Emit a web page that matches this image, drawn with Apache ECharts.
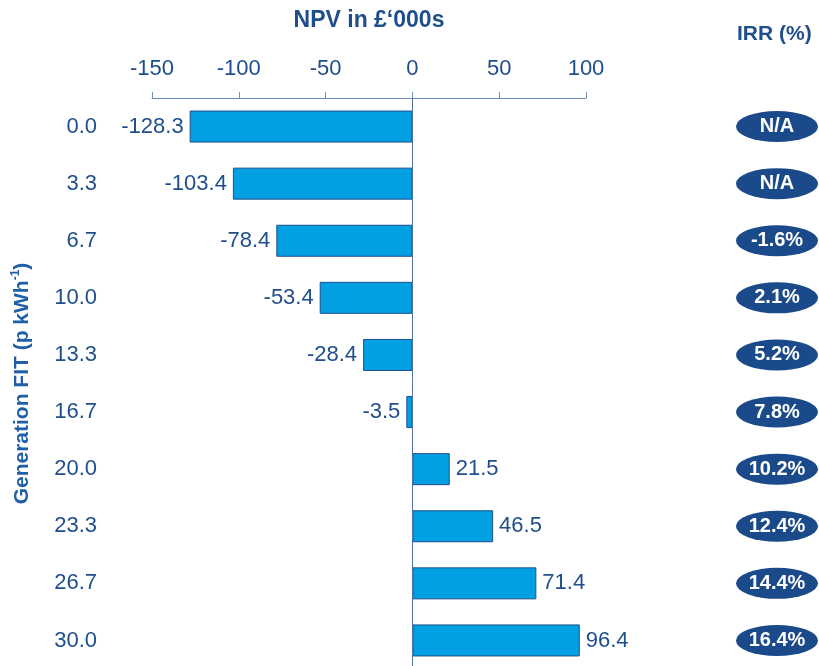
<!DOCTYPE html>
<html>
<head>
<meta charset="utf-8">
<script src="https://cdn.jsdelivr.net/npm/echarts@6/dist/echarts.min.js"></script>
<style>
  html, body { margin: 0; padding: 0; background: #fff; }
  #chart { width: 819px; height: 666px; }
</style>
</head>
<body>
<div id="chart"></div>
<script>
// Generation FIT levels (p/kWh), NPV in £'000s and IRR per level
var fitLevels = ['0.0', '3.3', '6.7', '10.0', '13.3', '16.7', '20.0', '23.3', '26.7', '30.0'];
var npvValues = [-128.3, -103.4, -78.4, -53.4, -28.4, -3.5, 21.5, 46.5, 71.4, 96.4];
var irrLabels = ['N/A', 'N/A', '-1.6%', '2.1%', '5.2%', '7.8%', '10.2%', '12.4%', '14.4%', '16.4%'];
var npvMin = -150, npvMax = 100, npvStep = 50;

var navy = '#1F4E8C';
var font = "'Liberation Sans', Arial, sans-serif";

var chart = echarts.init(document.getElementById('chart'));

var option = {
  backgroundColor: '#ffffff',
  animation: false,
  grid: [
    { left: 152, top: 98, width: 434, height: 571, outerBoundsMode: 'none', containLabel: false },
    { left: 736, top: 98, width: 82, height: 571, outerBoundsMode: 'none', containLabel: false }
  ],
  graphic: [{
    type: 'text',
    left: 737,
    top: 24,
    style: { text: 'IRR (%)', fill: navy, font: 'bold 21px ' + font }
  }],
  xAxis: [{
    gridIndex: 0,
    type: 'value',
    position: 'top',
    min: npvMin,
    max: npvMax,
    interval: npvStep,
    name: 'NPV in £‘000s',
    nameLocation: 'middle',
    nameGap: 66,
    nameTextStyle: { color: navy, fontFamily: font, fontWeight: 'bold', fontSize: 23 },
    axisLine: { show: true, lineStyle: { color: '#6F8DBB', width: 1 } },
    axisTick: { show: true, length: 6, lineStyle: { color: '#6F8DBB' } },
    axisLabel: { color: navy, fontFamily: font, fontSize: 22, margin: 18 },
    splitLine: { show: false }
  }, {
    gridIndex: 1,
    type: 'value',
    min: 0,
    max: 1,
    show: false
  }],
  yAxis: [{
    gridIndex: 0,
    type: 'category',
    inverse: true,
    data: fitLevels,
    name: '{a|Generation FIT (p kWh}{s|-1}{a|)}',
    nameLocation: 'middle',
    nameGap: 118,
    nameRotate: 90,
    nameTextStyle: {
      rich: {
        a: { color: '#1F5FA8', fontFamily: font, fontWeight: 'bold', fontSize: 21, lineHeight: 24 },
        s: { color: '#1F5FA8', fontFamily: font, fontWeight: 'bold', fontSize: 12, lineHeight: 24, verticalAlign: 'top' }
      }
    },
    axisLine: { show: false, onZero: false },
    axisTick: { show: false },
    axisLabel: { color: navy, fontFamily: font, fontSize: 22, margin: 55 }
  }, {
    gridIndex: 1,
    type: 'category',
    inverse: true,
    data: fitLevels,
    show: false
  }],
  series: [{
    type: 'bar',
    xAxisIndex: 0,
    yAxisIndex: 0,
    barWidth: 32,
    itemStyle: { color: '#00A0E3', borderColor: navy, borderWidth: 1 },
    label: {
      show: true,
      distance: 6,
      color: navy,
      fontFamily: font,
      fontSize: 22,
      formatter: function (p) { return p.value.toFixed(1); }
    },
    data: npvValues.map(function (v) {
      return { value: v, label: { position: v < 0 ? 'left' : 'right' } };
    }),
    markLine: {
      silent: true,
      symbol: 'none',
      label: { show: false },
      lineStyle: { color: '#4F73A8', width: 1, type: 'solid' },
      data: [{ xAxis: 0 }]
    }
  }, {
    type: 'scatter',
    xAxisIndex: 1,
    yAxisIndex: 1,
    symbol: 'circle',
    symbolSize: [82, 31],
    itemStyle: { color: '#1B4A8A', opacity: 1 },
    label: {
      show: true,
      position: 'inside',
      color: '#ffffff',
      fontFamily: font,
      fontWeight: 'bold',
      fontSize: 20,
      formatter: function (p) { return irrLabels[p.dataIndex]; }
    },
    data: fitLevels.map(function (f) { return [0.5, f]; })
  }]
};

chart.setOption(option);
</script>
</body>
</html>
